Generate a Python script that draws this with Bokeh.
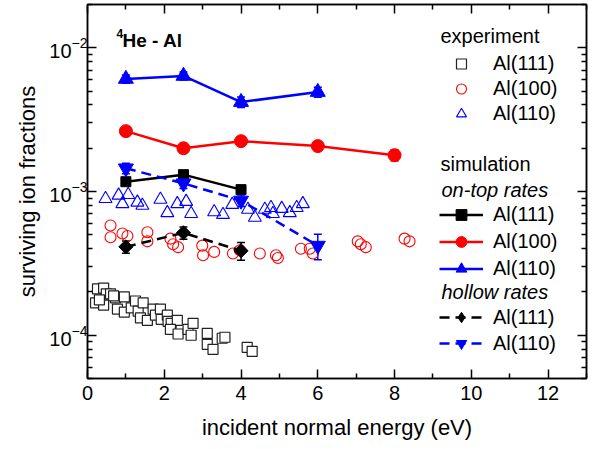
import numpy as np
from bokeh.plotting import figure
from bokeh.models import (ColumnDataSource, Whisker, TeeHead, Legend, LegendItem, Label,
                          LinearAxis, LogAxis, FixedTicker, Range1d, LogTickFormatter)
from bokeh.embed import file_html
from bokeh.resources import INLINE

# ---------------- data ----------------
# experiment Al(111) (open squares)
exp111_x = [0.26, 0.42, 0.21, 0.42, 0.49, 0.60, 0.73, 0.78, 0.96, 0.96, 1.14, 1.25, 1.32, 1.45,
            1.38, 1.56, 1.71, 1.77, 1.90, 1.92, 2.08, 2.10, 2.18, 2.34, 2.16, 2.36, 2.62, 2.75,
            2.70, 3.12, 3.12, 3.27, 3.51, 3.58, 4.16, 4.29, 0.31, 0.68]
exp111_y = [2.10e-4, 2.13e-4, 1.68e-4, 1.62e-4, 1.94e-4, 1.94e-4, 1.82e-4, 1.52e-4, 1.85e-4,
            1.45e-4, 1.55e-4, 1.73e-4, 1.47e-4, 1.68e-4, 1.32e-4, 1.27e-4, 1.52e-4, 1.38e-4,
            1.52e-4, 1.29e-4, 1.38e-4, 1.25e-4, 1.21e-4, 1.27e-4, 1.10e-4, 1.02e-4, 1.10e-4,
            1.21e-4, 1.00e-4, 1.03e-4, 8.65e-5, 7.98e-5, 9.53e-5, 9.68e-5, 8.24e-5, 7.73e-5,
            1.76e-4, 1.88e-4]
# experiment Al(100) (open circles)
exp100_x = [0.60, 0.60, 0.91, 1.04, 1.56, 1.56, 2.16, 2.23, 2.36, 2.99, 3.01, 3.30, 3.79, 3.97,
            4.49, 4.91, 4.96, 5.56, 5.79, 5.87, 7.04, 7.12, 7.25, 8.26, 8.39]
exp100_y = [5.8e-4, 4.8e-4, 5.1e-4, 4.9e-4, 5.2e-4, 4.5e-4, 4.7e-4, 4.3e-4, 4.1e-4, 4.2e-4,
            3.6e-4, 3.8e-4, 3.7e-4, 3.9e-4, 3.7e-4, 3.6e-4, 3.45e-4, 4.0e-4, 4.0e-4, 3.7e-4,
            4.5e-4, 4.3e-4, 4.1e-4, 4.7e-4, 4.5e-4]
# experiment Al(110) (open triangles)
exp110_x = [0.47, 0.81, 1.06, 0.91, 1.30, 1.43, 1.90, 2.08, 2.34, 2.57, 2.70, 3.30, 3.53, 3.77,
            4.18, 4.36, 4.62, 4.78, 4.83, 5.06, 5.27, 5.45, 5.61]
exp110_y = [8.9e-4, 9.4e-4, 9.5e-4, 8.2e-4, 8.4e-4, 8.0e-4, 8.8e-4, 7.1e-4, 8.2e-4, 8.5e-4,
            7.0e-4, 7.2e-4, 6.9e-4, 8.1e-4, 7.5e-4, 6.6e-4, 7.5e-4, 7.7e-4, 7.0e-4, 7.6e-4,
            7.1e-4, 7.7e-4, 8.2e-4]

# simulation, on-top rates
top111_x = [1, 2.5, 4]
top111_y = [1.17e-3, 1.31e-3, 1.03e-3]
top111_e = [4e-5, 5e-5, 7e-5]
top100_x = [1, 2.5, 4, 6, 8]
top100_y = [2.63e-3, 2.0e-3, 2.24e-3, 2.07e-3, 1.79e-3]
top100_e = [1.0e-4, 8e-5, 1.0e-4, 1.2e-4, 1.6e-4]
top110_x = [1, 2.5, 4, 6]
top110_y = [6.07e-3, 6.37e-3, 4.19e-3, 4.92e-3]
top110_e = [4e-4, 4e-4, 3.5e-4, 4e-4]
# simulation, hollow rates
hol111_x = [1, 2.5, 4]
hol111_y = [4.12e-4, 5.16e-4, 3.87e-4]
hol111_e = [4e-5, 5e-5, 5.5e-5]
hol110_x = [1, 2.5, 4, 6]
hol110_y = [1.45e-3, 1.14e-3, 8.65e-4, 4.2e-4]
hol110_e = [1.2e-4, 9e-5, 8e-5, 8.5e-5]

x_major = [0, 2, 4, 6, 8, 10, 12]
x_minor = [1, 3, 5, 7, 9, 11, 13]
y_major = [1e-4, 1e-3, 1e-2]
y_minor = [k * 10.0 ** e for e in (-5, -4, -3, -2) for k in range(2, 10)]

FONT = "Liberation Sans"
BLACK, RED, BLUE = "#000000", "#FF0000", "#0000FF"

p = figure(width=598, height=449, x_range=Range1d(0, 13), y_range=Range1d(5e-5, 2e-2),
           y_axis_type="log", output_backend="svg", toolbar_location=None,
           min_border_left=87, min_border_right=12, min_border_top=4, min_border_bottom=71)
p.xgrid.visible = False
p.ygrid.visible = False
p.outline_line_color = "black"
p.outline_line_width = 1.5
p.background_fill_color = "white"
p.border_fill_color = "white"

def style_axis(ax):
    ax.axis_line_width = 1.5
    ax.major_tick_in = 9
    ax.major_tick_out = 0
    ax.minor_tick_in = 5
    ax.minor_tick_out = 0
    ax.major_tick_line_width = 1.5
    ax.minor_tick_line_width = 1.5
    ax.major_label_text_font = FONT
    ax.major_label_text_font_size = "20px"
    ax.major_label_text_color = "black"
    ax.axis_label_text_font = FONT
    ax.axis_label_text_font_size = "22px"
    ax.axis_label_text_font_style = "normal"
    ax.axis_label_text_color = "black"

p.xaxis.ticker = FixedTicker(ticks=x_major, minor_ticks=x_minor)
p.yaxis.ticker = FixedTicker(ticks=y_major, minor_ticks=y_minor)
p.yaxis.formatter = LogTickFormatter()
style_axis(p.xaxis[0])
style_axis(p.yaxis[0])
p.xaxis.axis_label = "incident normal energy (eV)"
p.yaxis.axis_label = "surviving ion fractions"
p.xaxis.major_label_standoff = 7
p.yaxis.major_label_standoff = 0
p.xaxis.axis_label_standoff = 12
p.yaxis.axis_label_standoff = 6

top_ax = LinearAxis(ticker=FixedTicker(ticks=x_major, minor_ticks=x_minor),
                    major_label_standoff=0,
                    major_label_overrides={t: "" for t in x_major})
style_axis(top_ax)
p.add_layout(top_ax, "above")
right_ax = LogAxis(ticker=FixedTicker(ticks=y_major, minor_ticks=y_minor),
                   major_label_standoff=0,
                   major_label_overrides={t: "" for t in y_major})
style_axis(right_ax)
p.add_layout(right_ax, "right")

# experiment
r_e111 = p.scatter(exp111_x, exp111_y, marker="square", size=10, fill_color="white",
                   line_color="#222222", line_width=1.2)
r_e100 = p.scatter(exp100_x, exp100_y, marker="circle", size=11, fill_alpha=0,
                   line_color=RED, line_width=1.1)
r_e110 = p.scatter(exp110_x, exp110_y, marker="triangle", size=13, fill_alpha=0,
                   line_color=BLUE, line_width=1.1)

def sim(xs, ys, es, color, marker, size, dash, angle=0.0, legend_marker=None):
    src = ColumnDataSource(dict(x=xs, y=ys, lo=[a - b for a, b in zip(ys, es)],
                                hi=[a + b for a, b in zip(ys, es)]))
    ln = p.line("x", "y", source=src, line_color=color, line_width=2.5, line_dash=dash)
    w = Whisker(base="x", upper="hi", lower="lo", source=src, line_color=color, line_width=1.5,
                upper_head=TeeHead(size=8, line_color=color, line_width=1.5),
                lower_head=TeeHead(size=8, line_color=color, line_width=1.5))
    p.add_layout(w)
    sc = p.scatter("x", "y", source=src, marker=marker, size=size, fill_color=color,
                   line_color=color, angle=angle)
    if legend_marker is not None:
        # hidden stand-in glyph, used only for the legend (legend markers are drawn unrotated)
        sc = p.scatter("x", "y", source=src, marker=legend_marker, size=size,
                       fill_color=color, line_color=color, visible=False)
    return [ln, sc]

r_t111 = sim(top111_x, top111_y, top111_e, BLACK, "square", 10, "solid")
r_t100 = sim(top100_x, top100_y, top100_e, RED, "circle", 13, "solid")
r_t110 = sim(top110_x, top110_y, top110_e, BLUE, "triangle", 15, "solid")
r_h111 = sim(hol111_x, hol111_y, hol111_e, BLACK, "square", 10, "10 6", angle=np.pi / 4,
             legend_marker="diamond")
r_h110 = sim(hol110_x, hol110_y, hol110_e, BLUE, "inverted_triangle", 15, "10 6")

def make_legend(items, x, y, gh):
    leg = Legend(items=items, location=(x, y), glyph_width=44, glyph_height=gh,
                 label_height=gh, spacing=0, padding=0, margin=0, label_standoff=10,
                 border_line_alpha=0, background_fill_alpha=0, inactive_fill_alpha=0,
                 label_text_font=FONT, label_text_font_size="20px", label_text_color="black")
    p.add_layout(leg)
    return leg

make_legend([LegendItem(label="Al(111)", renderers=[r_e111]),
             LegendItem(label="Al(100)", renderers=[r_e100]),
             LegendItem(label="Al(110)", renderers=[r_e110])], 352, 252, 25)
make_legend([LegendItem(label="Al(111)", renderers=r_t111),
             LegendItem(label="Al(100)", renderers=r_t100),
             LegendItem(label="Al(110)", renderers=r_t110)], 352, 96, 27)
make_legend([LegendItem(label="Al(111)", renderers=r_h111),
             LegendItem(label="Al(110)", renderers=r_h110)], 352, 22, 26)

def lab(text, x, y, size="20px", style="normal"):
    p.add_layout(Label(text=text, x=x, y=y, x_units="screen", y_units="screen",
                       text_font=FONT, text_font_size=size, text_font_style=style,
                       text_baseline="middle", text_align="left", text_color="black"))

lab("experiment", 353, 343)
lab("simulation", 353, 215)
lab("on-top rates", 354, 189, style="italic")
lab("hollow rates", 354, 87, style="italic")
lab("He - Al", 35, 338, size="19px", style="bold")
lab("4", 29, 345, size="12px", style="bold")

open("out.html", "w").write(file_html(p, INLINE))
